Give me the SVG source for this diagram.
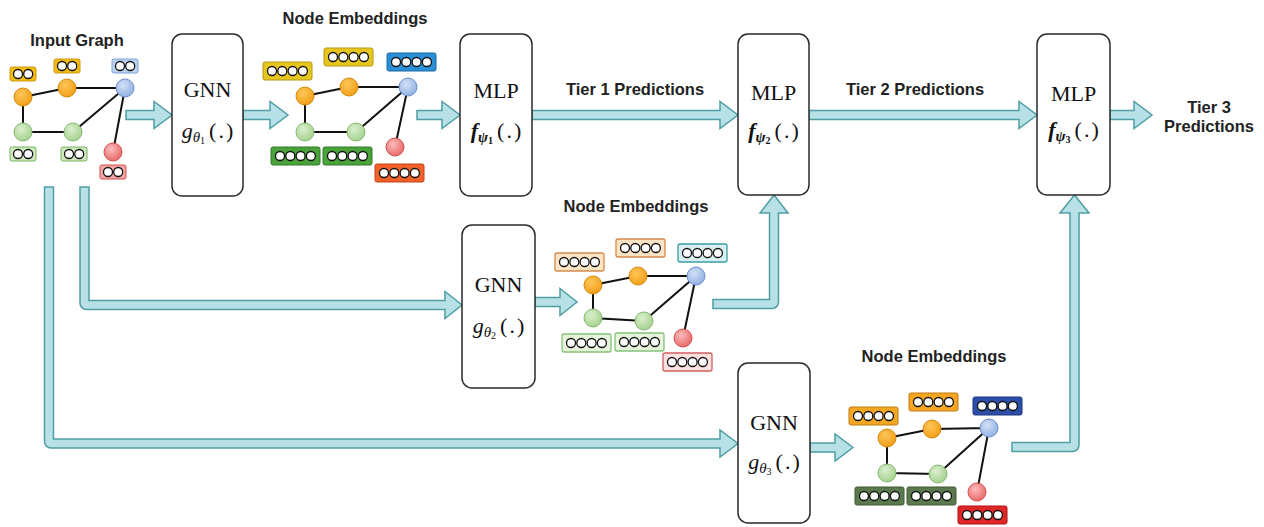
<svg xmlns="http://www.w3.org/2000/svg" xmlns:xlink="http://www.w3.org/1999/xlink" width="1264" height="527" viewBox="0 0 1264 527">
<style>
.box{fill:#fff;stroke:#2a2a2a;stroke-width:1.5}
.lbl{font-family:"Liberation Sans",Arial,sans-serif;font-weight:bold;font-size:16.5px;fill:#222;text-anchor:middle}
.serif{font-family:"Liberation Serif","Times New Roman",serif;font-size:22px;fill:#111;text-anchor:middle}
.arr{fill:#b7e1e6;stroke:#4f9ea5;stroke-width:1.5;stroke-linejoin:miter}
.edge{stroke:#111;stroke-width:2;fill:none}
.dot circle{fill:#fff;stroke:#111;stroke-width:1.3}
.no{stroke:#d08a10;stroke-width:1;fill:url(#gO)}
.nb{stroke:#6d8fcc;stroke-width:1;fill:url(#gB)}
.ng{stroke:#86b872;stroke-width:1;fill:url(#gG)}
.nr{stroke:#cf5252;stroke-width:1;fill:url(#gR)}
</style>
<defs>
<radialGradient id="gO" cx="0.4" cy="0.35" r="0.7"><stop offset="0" stop-color="#fcc65a"/><stop offset="1" stop-color="#f39c12"/></radialGradient>
<radialGradient id="gB" cx="0.4" cy="0.35" r="0.7"><stop offset="0" stop-color="#d3e1f6"/><stop offset="1" stop-color="#8eaee3"/></radialGradient>
<radialGradient id="gG" cx="0.4" cy="0.35" r="0.7"><stop offset="0" stop-color="#daefcd"/><stop offset="1" stop-color="#a2d18b"/></radialGradient>
<radialGradient id="gR" cx="0.4" cy="0.35" r="0.7"><stop offset="0" stop-color="#fbbcbc"/><stop offset="1" stop-color="#ea6464"/></radialGradient>
<g id="c4" class="dot"><circle cx="9" cy="9" r="4.5"/><circle cx="19.3" cy="9" r="4.5"/><circle cx="29.6" cy="9" r="4.5"/><circle cx="39.9" cy="9" r="4.5"/></g>
<g id="c2" class="dot"><circle cx="8" cy="7" r="4.5"/><circle cx="18.2" cy="7" r="4.5"/></g>
</defs>
<rect width="1264" height="527" fill="#fff"/>

<g id="connectors">
<path class="arr" d="M126,110.5 H154 V101.5 L172,115 L154,128.5 V119.5 H126 Z"/>
<path class="arr" d="M243,110.5 H270 V101.5 L288,115 L270,128.5 V119.5 H243 Z"/>
<path class="arr" d="M417,110.5 H442 V101.5 L460,115 L442,128.5 V119.5 H417 Z"/>
<path class="arr" d="M532,110.5 H720 V101.5 L738,115 L720,128.5 V119.5 H532 Z"/>
<path class="arr" d="M809,110.5 H1019 V101.5 L1037,115 L1019,128.5 V119.5 H809 Z"/>
<path class="arr" d="M1110,110.5 H1134 V101.5 L1152,115 L1134,128.5 V119.5 H1110 Z"/>
<path class="arr" d="M44.5,187 H53.5 V439 H720 V430 L738,443.5 L720,457 V448 H51 A6.5,6.5 0 0 1 44.5,441.5 Z"/>
<path class="arr" d="M80,187 H89 V300.5 H445 V291.5 L462,305 L445,318.5 V309.5 H86.5 A6.5,6.5 0 0 1 80,303 Z"/>
<path class="arr" d="M535,297.5 H560 V288.5 L577,302 L560,315.5 V306.5 H535 Z"/>
<path class="arr" d="M713,299.5 H769.5 V213 H760 L774,195 L788,213 H778.5 V302 A6.5,6.5 0 0 1 772,308.5 H713 Z"/>
<path class="arr" d="M810,443 H835 V434 L853,447.5 L835,461 V452 H810 Z"/>
<path class="arr" d="M1012,442.5 H1070 V213 H1060 L1074.5,195 L1089,213 H1079 V445 A6.5,6.5 0 0 1 1072.5,451.5 H1012 Z"/>
</g>

<g id="labels">
<text class="lbl" x="77" y="46">Input Graph</text>
<text class="lbl" x="355" y="24">Node Embeddings</text>
<text class="lbl" x="636" y="212">Node Embeddings</text>
<text class="lbl" x="934" y="362">Node Embeddings</text>
<text class="lbl" x="635" y="95">Tier 1 Predictions</text>
<text class="lbl" x="915" y="95">Tier 2 Predictions</text>
<text class="lbl" x="1209" y="113">Tier 3</text>
<text class="lbl" x="1209" y="132">Predictions</text>
</g>

<g id="gnn1">
<rect class="box" x="172" y="34" width="71" height="162" rx="10"/>
<text class="serif" x="207.5" y="97">GNN</text>
<text class="serif" x="207.5" y="138"><tspan font-style="italic">g</tspan><tspan font-style="italic" font-size="15" dy="4">θ</tspan><tspan font-size="10" dy="2">1</tspan><tspan dy="-6" dx="4">(</tspan><tspan dx="2">.</tspan><tspan dx="2">)</tspan></text>
</g>
<g id="mlp1">
<rect class="box" x="460" y="34" width="72" height="162" rx="10"/>
<text class="serif" x="496" y="98">MLP</text>
<text class="serif" x="496" y="138"><tspan font-style="italic" font-weight="bold">f</tspan><tspan font-style="italic" font-weight="bold" font-size="15" dy="4">ψ</tspan><tspan font-size="10" font-weight="bold" dy="2">1</tspan><tspan dy="-6" dx="4">(</tspan><tspan dx="2">.</tspan><tspan dx="2">)</tspan></text>
</g>
<g id="mlp2">
<rect class="box" x="738" y="34" width="71" height="161" rx="10"/>
<text class="serif" x="773.5" y="100">MLP</text>
<text class="serif" x="773.5" y="138"><tspan font-style="italic" font-weight="bold">f</tspan><tspan font-style="italic" font-weight="bold" font-size="15" dy="4">ψ</tspan><tspan font-size="10" font-weight="bold" dy="2">2</tspan><tspan dy="-6" dx="4">(</tspan><tspan dx="2">.</tspan><tspan dx="2">)</tspan></text>
</g>
<g id="mlp3">
<rect class="box" x="1037" y="34" width="73" height="161" rx="10"/>
<text class="serif" x="1073.5" y="101">MLP</text>
<text class="serif" x="1073.5" y="137"><tspan font-style="italic" font-weight="bold">f</tspan><tspan font-style="italic" font-weight="bold" font-size="15" dy="4">ψ</tspan><tspan font-size="10" font-weight="bold" dy="2">3</tspan><tspan dy="-6" dx="4">(</tspan><tspan dx="2">.</tspan><tspan dx="2">)</tspan></text>
</g>
<g id="gnn2">
<rect class="box" x="462" y="225" width="73" height="163" rx="10"/>
<text class="serif" x="498.5" y="292">GNN</text>
<text class="serif" x="498.5" y="333"><tspan font-style="italic">g</tspan><tspan font-style="italic" font-size="15" dy="4">θ</tspan><tspan font-size="10" dy="2">2</tspan><tspan dy="-6" dx="4">(</tspan><tspan dx="2">.</tspan><tspan dx="2">)</tspan></text>
</g>
<g id="gnn3">
<rect class="box" x="738" y="363" width="72" height="160" rx="10"/>
<text class="serif" x="774" y="430">GNN</text>
<text class="serif" x="774" y="469"><tspan font-style="italic">g</tspan><tspan font-style="italic" font-size="15" dy="4">θ</tspan><tspan font-size="10" dy="2">3</tspan><tspan dy="-6" dx="4">(</tspan><tspan dx="2">.</tspan><tspan dx="2">)</tspan></text>
</g>

<g id="input-graph">
<path class="edge" d="M23,97 L67,88 L125,88 M23,97 L23,132 L73,132 L125,88 L113,152"/>
<circle class="no" cx="23" cy="97" r="9"/>
<circle class="no" cx="67" cy="88" r="9"/>
<circle class="nb" cx="125" cy="88" r="9"/>
<circle class="ng" cx="23" cy="132" r="9"/>
<circle class="ng" cx="73" cy="132" r="9"/>
<circle class="nr" cx="113" cy="152" r="9"/>
<g stroke-width="1">
<rect x="10" y="67" width="26" height="14" rx="2" fill="#f5bb12" stroke="#c99a0c"/><use xlink:href="#c2" x="10" y="67"/>
<rect x="54" y="59" width="26" height="14" rx="2" fill="#f5bb12" stroke="#c99a0c"/><use xlink:href="#c2" x="54" y="59"/>
<rect x="112" y="59" width="26" height="14" rx="2" fill="#bcd3f0" stroke="#7ba3da"/><use xlink:href="#c2" x="112" y="59"/>
<rect x="10" y="147" width="26" height="14" rx="2" fill="#cfe8c0" stroke="#76b65e"/><use xlink:href="#c2" x="10" y="147"/>
<rect x="61" y="147" width="26" height="14" rx="2" fill="#cfe8c0" stroke="#76b65e"/><use xlink:href="#c2" x="61" y="147"/>
<rect x="100" y="165" width="26" height="14" rx="2" fill="#f4a5a5" stroke="#d64c4c"/><use xlink:href="#c2" x="100" y="165"/>
</g>
</g>

<g id="embeddings-1">
<path class="edge" d="M305,96 L349,87 L408,87 M305,96 L305,132 L356,132 L408,87 L395,147"/>
<circle class="no" cx="305" cy="96" r="9"/>
<circle class="no" cx="349" cy="87" r="9"/>
<circle class="nb" cx="408" cy="87" r="9"/>
<circle class="ng" cx="305" cy="132" r="9"/>
<circle class="ng" cx="356" cy="132" r="9"/>
<circle class="nr" cx="395" cy="147" r="9"/>
<g stroke-width="1">
<rect x="263" y="62" width="49" height="18" rx="2" fill="#e6c51f" stroke="#b59a12"/><use xlink:href="#c4" x="263" y="62"/>
<rect x="324" y="48" width="49" height="18" rx="2" fill="#e6c51f" stroke="#b59a12"/><use xlink:href="#c4" x="324" y="48"/>
<rect x="387" y="53" width="49" height="18" rx="2" fill="#2b8fd6" stroke="#1b68a6"/><use xlink:href="#c4" x="387" y="53"/>
<rect x="271" y="147" width="49" height="18" rx="2" fill="#4aa23a" stroke="#2f7a26"/><use xlink:href="#c4" x="271" y="147"/>
<rect x="323" y="147" width="49" height="18" rx="2" fill="#4aa23a" stroke="#2f7a26"/><use xlink:href="#c4" x="323" y="147"/>
<rect x="375" y="164" width="49" height="18" rx="2" fill="#f0602a" stroke="#c24414"/><use xlink:href="#c4" x="375" y="164"/>
</g>
</g>

<g id="embeddings-2">
<path class="edge" d="M593,285 L638,276 L696,276 M593,285 L593,318 L644,321 L696,276 L683,338"/>
<circle class="no" cx="593" cy="285" r="9"/>
<circle class="no" cx="638" cy="276" r="9"/>
<circle class="nb" cx="696" cy="276" r="9"/>
<circle class="ng" cx="593" cy="318" r="9"/>
<circle class="ng" cx="644" cy="321" r="9"/>
<circle class="nr" cx="683" cy="338" r="9"/>
<g stroke-width="1.3">
<rect x="555" y="253" width="49" height="18" rx="2" fill="#fde4c4" stroke="#d48a4c"/><use xlink:href="#c4" x="555" y="253"/>
<rect x="616" y="239" width="49" height="18" rx="2" fill="#fde4c4" stroke="#d48a4c"/><use xlink:href="#c4" x="616" y="239"/>
<rect x="678" y="244" width="49" height="18" rx="2" fill="#d8f0f2" stroke="#3a9ea6"/><use xlink:href="#c4" x="678" y="244"/>
<rect x="562" y="334" width="49" height="18" rx="2" fill="#e6f4dc" stroke="#86c27a"/><use xlink:href="#c4" x="562" y="334"/>
<rect x="615" y="333" width="49" height="18" rx="2" fill="#e6f4dc" stroke="#86c27a"/><use xlink:href="#c4" x="615" y="333"/>
<rect x="663" y="353" width="49" height="18" rx="2" fill="#fde0e0" stroke="#d06060"/><use xlink:href="#c4" x="663" y="353"/>
</g>
</g>

<g id="embeddings-3">
<path class="edge" d="M887,438 L932,429 L989,428 M887,438 L887,473 L938,474 L989,428 L977,492"/>
<circle class="no" cx="887" cy="438" r="9"/>
<circle class="no" cx="932" cy="429" r="9"/>
<circle class="nb" cx="989" cy="428" r="9"/>
<circle class="ng" cx="887" cy="473" r="9"/>
<circle class="ng" cx="938" cy="474" r="9"/>
<circle class="nr" cx="977" cy="492" r="9"/>
<g stroke-width="1">
<rect x="849" y="407" width="49" height="18" rx="2" fill="#f5a623" stroke="#c07a10"/><use xlink:href="#c4" x="849" y="407"/>
<rect x="909" y="393" width="49" height="18" rx="2" fill="#f5a623" stroke="#c07a10"/><use xlink:href="#c4" x="909" y="393"/>
<rect x="973" y="397" width="49" height="18" rx="2" fill="#2d4ea8" stroke="#1c3580"/><use xlink:href="#c4" x="973" y="397"/>
<rect x="855" y="487" width="49" height="18" rx="2" fill="#5a7a4e" stroke="#3e5a34"/><use xlink:href="#c4" x="855" y="487"/>
<rect x="907" y="487" width="49" height="18" rx="2" fill="#5a7a4e" stroke="#3e5a34"/><use xlink:href="#c4" x="907" y="487"/>
<rect x="958" y="506" width="49" height="18" rx="2" fill="#e02626" stroke="#b01010"/><use xlink:href="#c4" x="958" y="506"/>
</g>
</g>
</svg>
